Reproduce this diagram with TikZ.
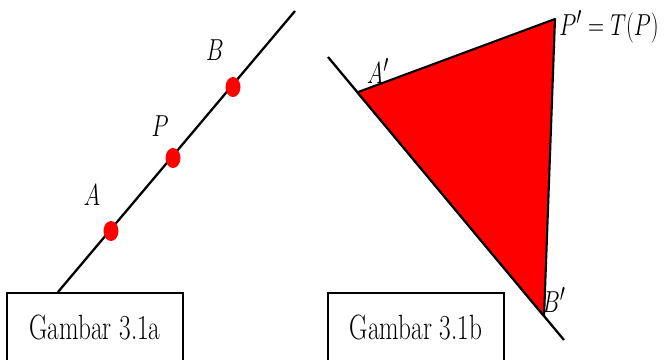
\documentclass[tikz,border=0pt]{standalone}
\usepackage{amsmath, amssymb}
\usepackage{xcolor}
\usepackage{graphicx}
\usepackage{tikz}
\usetikzlibrary{arrows.meta, positioning, calc, shapes}

% huruf yang dipersempit
\newcommand{\sempit}[1]{\scalebox{0.73}[1]{#1}}

\begin{document}
\begin{tikzpicture}[x=0.02cm, y=-0.02cm,
		garis/.style={line width=1.3pt},
		titik/.style={red, x radius=0.15cm, y radius=0.2cm},
		label/.style={font=\fontsize{19}{22}\selectfont, inner sep=0pt},
		kotak/.style={draw, line width=0.8pt, minimum width=3.52cm, minimum height=1.36cm, font=\fontsize{20}{24}\selectfont, inner sep=0pt}]
		\useasboundingbox (0,0) rectangle (665,359);
		
		% Gambar 3.1a: garis dengan tiga titik
		\coordinate (a0) at (58,292);
		\coordinate (a1) at (295,11);
		\draw[garis] (a0) -- (a1);
		
		\coordinate (A) at (111,231);
		\coordinate (P) at (173,158);
		\coordinate (B) at (233,87);
		\fill[titik] (A) ellipse [];
		\fill[titik] (P) ellipse [];
		\fill[titik] (B) ellipse [];
		\node[label] (lA) at (92,195) {\sempit{$A$}};
		\node[label] (lP) at (160,126) {\sempit{$P$}};
		\node[label] (lB) at (215,50) {\sempit{$B$}};
		
		% Gambar 3.1b: segitiga hasil transformasi
		\coordinate (b0) at (328,57);
		\coordinate (b1) at (564,340);
		\draw[garis] (b0) -- (b1);
		
		\coordinate (A') at ($(b0)!0.1247!(b1)$);
		\coordinate (P') at (555,19);
		\coordinate (B') at ($(b0)!0.9155!(b1)$);
		\filldraw[red, draw=black, line width=1.2pt, line join=round] (A') -- (P') -- (B') -- cycle;
		\node[label] (lA') at (378,71) {\sempit{$A'$}};
		\node[label, anchor=west] (lP') at (559,27) {\sempit{$P' = T(P)$}};
		\node[label] (lB') at (554,300) {\sempit{$B'$}};
		
		% Keterangan
		\node[kotak] (ka) at (95,327) {\scalebox{0.72}[1]{Gambar 3.1a}};
		\node[kotak] (kb) at (416,327) {\scalebox{0.72}[1]{Gambar 3.1b}};
	\end{tikzpicture}
\end{document}
